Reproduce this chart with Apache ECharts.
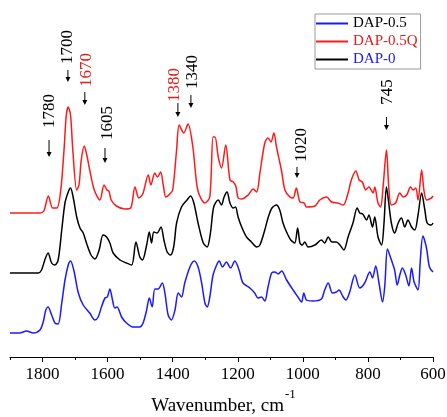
<!DOCTYPE html>
<html>
<head>
<meta charset="utf-8">
<script src="https://cdn.jsdelivr.net/npm/echarts@6/dist/echarts.min.js"></script>
<style>html,body{margin:0;padding:0;background:#fff}#c{width:447px;height:417px}</style>
</head>
<body>
<div id="c"></div>
<script>
// ---- data (wavenumber, cm-1 ; relative intensity, offset traces) ----
var seriesNames = ['DAP-0.5', 'DAP-0.5Q', 'DAP-0'];
var xTicks = [1800, 1600, 1400, 1200, 1000, 800, 600];
var xTitle = 'Wavenumber, cm';
var xTitleSup = '-1';

var wnQ = [1900,1808,1796,1782,1769,1756,1744,1734,1727,1721,1714,1707,1695,1688,1681,1672,1664,1655,1641,1624,1611,1602,1596,1589,1573,1547,1529,1516,1504,1492,1475,1467,1455,1447,1437,1429,1421,1409,1400,1388,1380,1366,1353,1338,1323,1301,1286,1276,1270,1260,1250,1237,1224,1214,1206,1199,1188,1168,1153,1142,1132,1117,1107,1098,1089,1081,1066,1055,1040,1030,1020,1009,996,989,963,948,927,912,892,876,861,851,837,827,817,807,797,784,779,769,761,753,743,736,728,715,702,692,681,669,661,653,646,635,628,620,605,600];
var valQ = [144,144,146,161,149,149,167,207,242,250,242,207,167,172,197,211,202,187,167,157,172,167,166,157,151,148,149,170,159,163,182,172,184,180,185,172,160,163,167,207,232,224,233,210,167,154,160,220,220,200,189,212,177,175,171,159,158,162,168,165,184,214,219,215,224,210,187,167,160,159,169,155,154,150,151,157,160,155,154,152,164,177,186,177,175,167,170,164,170,154,150,172,207,170,152,154,164,160,162,170,167,169,157,187,167,157,159,161];

var wn0 = [1900,1813,1803,1793,1783,1772,1762,1752,1741,1731,1721,1714,1706,1695,1685,1675,1665,1651,1639,1626,1614,1603,1593,1583,1562,1542,1526,1513,1501,1493,1480,1472,1465,1458,1448,1436,1427,1417,1407,1397,1388,1373,1356,1345,1335,1322,1306,1294,1284,1274,1260,1250,1242,1233,1224,1214,1207,1199,1188,1173,1158,1142,1132,1117,1107,1095,1081,1071,1061,1050,1037,1025,1016,1009,1002,994,984,963,943,933,922,911,897,886,874,861,846,833,825,816,804,797,786,779,769,758,751,743,736,728,718,707,697,687,677,666,656,646,635,625,618,605,600];
var val0 = [84,84,87,97,104,94,92,97,127,154,165,169,160,140,129,124,114,102,98,107,122,120,114,104,97,94,92,115,100,97,112,125,114,125,124,130,117,105,102,110,134,150,157,161,154,134,114,110,124,150,157,152,160,165,154,149,150,140,130,120,115,110,112,127,139,149,152,147,134,125,117,114,129,114,112,115,110,112,117,114,120,115,115,112,107,120,134,149,144,143,137,142,130,140,120,112,132,170,154,134,124,134,139,130,137,130,127,142,164,147,134,132,134];

var wn05 = [1900,1870,1849,1829,1808,1798,1790,1783,1772,1762,1752,1741,1731,1721,1714,1704,1690,1675,1655,1639,1629,1619,1608,1601,1593,1585,1578,1571,1557,1542,1522,1501,1491,1480,1472,1463,1455,1445,1432,1424,1414,1404,1393,1383,1373,1363,1347,1334,1322,1311,1301,1294,1286,1276,1265,1257,1247,1235,1222,1209,1196,1184,1163,1148,1138,1127,1117,1107,1096,1086,1076,1065,1050,1030,1015,1004,997,989,969,943,933,922,909,897,889,876,868,856,840,825,810,794,786,776,766,755,748,740,730,718,710,702,694,684,674,666,658,646,639,631,620,611,600];
var val05 = [24,24,26,24,27,35,47,50,42,34,33,54,77,92,96,87,64,52,44,37,40,50,59,60,68,57,49,50,40,34,30,30,34,47,59,50,68,68,74,64,42,37,47,64,60,74,90,96,90,74,54,50,60,82,92,96,90,95,89,96,87,74,69,64,59,60,56,70,84,85,83,86,77,67,60,55,64,57,56,58,67,74,64,65,67,60,57,65,82,69,74,85,79,91,74,55,72,108,99,87,72,82,89,82,71,89,75,67,97,121,109,90,85];

// peak annotations
var annLabels = ['1780', '1700', '1670', '1605', '1380', '1340', '1020', '745'];
var annColors = ['#000', '#000', '#e0201c', '#000', '#e0201c', '#000', '#000', '#000'];
var annTextWn = [1779, 1722, 1664, 1599, 1393, 1338, 1005, 739];
var annTextVal = [246, 310, 287, 234, 272, 285, 212, 265];
var annArrowWn = [1780, 1722, 1670, 1608, 1384, 1344, 1018, 743];
var annArrowTop = [217, 287, 265, 209, 254, 262, 190, 240];
var annArrowBot = [200, 275, 252, 194, 240, 249, 179, 227];

// ---- chart ----
var FONT = '"Liberation Serif", "Times New Roman", serif';
var chart = echarts.init(document.getElementById('c'), null, {renderer: 'canvas'});
function pairs(w, v) { return w.map(function (x, i) { return [x, v[i]]; }); }

var lineColors = ['#1a1aff', '#ff1a1a', '#000000'];
var legendTextColors = ['#000000', '#e0201c', '#1a1aff'];

chart.setOption({
  animation: false,
  backgroundColor: '#fff',
  grid: {left: 10, right: 14, top: 0, bottom: 60, containLabel: false, outerBoundsMode: 'none'},
  legend: {
    orient: 'vertical', left: 315, top: 14,
    padding: [2, 3, 2, 1], itemGap: 3,
    borderColor: '#999', borderWidth: 1,
    icon: 'rect', itemWidth: 32, itemHeight: 2,
    textStyle: {fontFamily: FONT, fontSize: 15, lineHeight: 15, padding: [0, 0, 0, 0]},
    data: seriesNames.map(function (n, i) { return {name: n, textStyle: {color: legendTextColors[i]}}; })
  },
  xAxis: [{
    type: 'value', position: 'bottom', min: 600, max: 1900, interval: 100, inverse: true,
    axisLine: {show: true, onZero: false, lineStyle: {color: '#000', width: 1}},
    axisTick: {show: true, length: 3, lineStyle: {color: '#000'}},
    axisLabel: {show: false},
    splitLine: {show: false}
  }, {
    type: 'value', position: 'bottom', offset: 0, min: 600, max: 1900, interval: 100, inverse: true,
    axisLine: {show: false, onZero: false},
    axisTick: {show: true, length: 5, customValues: xTicks, lineStyle: {color: '#000'}},
    axisLabel: {show: true, customValues: xTicks, margin: 9, color: '#000', fontFamily: FONT, fontSize: 17,
      formatter: function (v) { return String(v); }},
    splitLine: {show: false}
  }],
  yAxis: {type: 'value', min: 0, max: 357, show: false},
  series: [
    {name: seriesNames[0], type: 'line', data: pairs(wn05, val05), color: lineColors[0]},
    {name: seriesNames[1], type: 'line', data: pairs(wnQ, valQ), color: lineColors[1]},
    {name: seriesNames[2], type: 'line', data: pairs(wn0, val0), color: lineColors[2]}
  ].map(function (s) {
    s.showSymbol = false; s.symbol = 'none'; s.smooth = 0.3;
    s.lineStyle = {width: 1.5, color: s.color};
    s.xAxisIndex = 0; s.yAxisIndex = 0;
    return s;
  })
});

var g = [];
annLabels.forEach(function (lab, i) {
  var tp = chart.convertToPixel({xAxisIndex: 0, yAxisIndex: 0}, [annTextWn[i], annTextVal[i]]);
  var a0 = chart.convertToPixel({xAxisIndex: 0, yAxisIndex: 0}, [annArrowWn[i], annArrowTop[i]]);
  var a1 = chart.convertToPixel({xAxisIndex: 0, yAxisIndex: 0}, [annArrowWn[i], annArrowBot[i]]);
  g.push({type: 'text', x: tp[0], y: tp[1], rotation: Math.PI / 2,
    style: {text: lab, fill: annColors[i], fontFamily: FONT, fontSize: 17, align: 'center', verticalAlign: 'middle'}});
  g.push({type: 'line', shape: {x1: a0[0], y1: a0[1], x2: a1[0], y2: a1[1] - 4}, style: {stroke: '#000', lineWidth: 1}});
  g.push({type: 'polygon', shape: {points: [[a1[0] - 2.5, a1[1] - 5], [a1[0] + 2.5, a1[1] - 5], [a1[0], a1[1]]]}, style: {fill: '#000'}});
});
// axis title with superscript
g.push({type: 'text', x: 284, y: 406, style: {text: xTitle, fill: '#000', fontFamily: FONT, fontSize: 19, align: 'right', verticalAlign: 'middle'}});
g.push({type: 'text', x: 285, y: 395, style: {text: xTitleSup, fill: '#000', fontFamily: FONT, fontSize: 13, align: 'left', verticalAlign: 'middle'}});
chart.setOption({graphic: g});
</script>
</body>
</html>
